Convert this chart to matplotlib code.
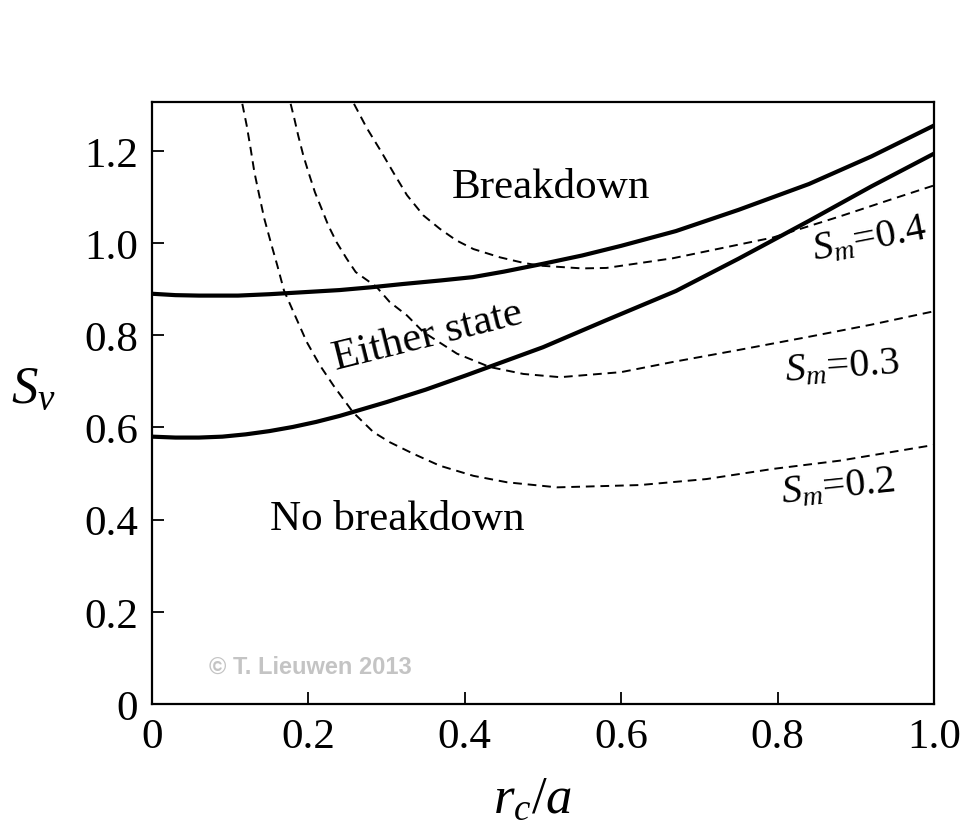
import matplotlib
matplotlib.use("Agg")
import matplotlib.pyplot as plt

plt.rcParams['font.family'] = ['Liberation Serif', 'DejaVu Serif']
plt.rcParams['mathtext.fontset'] = 'custom'
plt.rcParams['mathtext.rm'] = 'Liberation Serif'
plt.rcParams['mathtext.it'] = 'Liberation Serif:italic'

# Solid boundary curves
upper_x = [0, 0.03, 0.06, 0.11, 0.15, 0.19, 0.24, 0.28, 0.32, 0.37, 0.41, 0.45, 0.50, 0.55, 0.60, 0.67, 0.75, 0.84, 0.92, 1.0]
upper_y = [0.890, 0.887, 0.886, 0.886, 0.889, 0.893, 0.898, 0.904, 0.911, 0.919, 0.926, 0.938, 0.955, 0.973, 0.994, 1.026, 1.072, 1.128, 1.188, 1.255]

lower_x = [0, 0.03, 0.06, 0.09, 0.12, 0.15, 0.18, 0.21, 0.24, 0.27, 0.30, 0.35, 0.40, 0.45, 0.50, 0.58, 0.67, 0.75, 0.84, 0.92, 1.0]
lower_y = [0.580, 0.578, 0.578, 0.580, 0.585, 0.592, 0.601, 0.612, 0.625, 0.640, 0.655, 0.682, 0.712, 0.743, 0.774, 0.832, 0.896, 0.966, 1.048, 1.123, 1.194]

# Dashed S_m curves
sm02_x = [0.1155, 0.1211, 0.1262, 0.1309, 0.1372, 0.1436, 0.1518, 0.1603, 0.1688, 0.181, 0.198, 0.215, 0.232,
          0.257, 0.283, 0.304, 0.334, 0.368, 0.411, 0.454, 0.518, 0.624, 0.709, 0.794, 0.880, 1.0]
sm02_y = [1.302, 1.255, 1.204, 1.154, 1.103, 1.053, 1.002, 0.951, 0.897, 0.850, 0.785, 0.734, 0.691,
          0.633, 0.590, 0.568, 0.543, 0.517, 0.495, 0.481, 0.470, 0.475, 0.488, 0.510, 0.528, 0.562]

sm03_x = [0.1773, 0.182, 0.187, 0.1935, 0.200, 0.2084, 0.217, 0.2255, 0.236, 0.249, 0.2605, 0.287, 0.304,
          0.326, 0.347, 0.39, 0.432, 0.475, 0.522, 0.60, 0.666, 0.75, 0.838, 0.92, 1.0]
sm03_y = [1.302, 1.270, 1.233, 1.190, 1.154, 1.110, 1.074, 1.038, 1.002, 0.966, 0.937, 0.905, 0.872,
          0.843, 0.807, 0.760, 0.731, 0.716, 0.709, 0.720, 0.742, 0.768, 0.796, 0.823, 0.852]

sm04_x = [0.2583, 0.2745, 0.2925, 0.309, 0.326, 0.347, 0.368, 0.389, 0.411, 0.445, 0.475, 0.496, 0.55,
          0.581, 0.666, 0.794, 0.85, 0.880, 0.944, 1.0]
sm04_y = [1.302, 1.250, 1.200, 1.152, 1.104, 1.060, 1.031, 1.006, 0.987, 0.969, 0.957, 0.951, 0.945,
          0.946, 0.967, 1.012, 1.042, 1.058, 1.094, 1.125]

sm_labels = [r'$S_m$=0.2', r'$S_m$=0.3', r'$S_m$=0.4']

xticks = [0, 0.2, 0.4, 0.6, 0.8, 1.0]
xtick_labels = ['0', '0.2', '0.4', '0.6', '0.8', '1.0']
yticks = [0, 0.2, 0.4, 0.6, 0.8, 1.0, 1.2]
ytick_labels = ['0', '0.2', '0.4', '0.6', '0.8', '1.0', '1.2']

fig = plt.figure(figsize=(9.63, 8.28), dpi=100)
ax = fig.add_axes([152/963, 1-705/828, (934-152)/963, (705-103)/828])

ax.plot(upper_x, upper_y, color='black', lw=3.0, solid_capstyle='butt', solid_joinstyle='round')
ax.plot(lower_x, lower_y, color='black', lw=3.0, solid_capstyle='butt', solid_joinstyle='round')
for xs, ys in [(sm02_x, sm02_y), (sm03_x, sm03_y), (sm04_x, sm04_y)]:
    ax.plot(xs, ys, color='black', lw=1.4, linestyle=(0, (4.5, 3)))

ax.set_xlim(0, 1.0)
ax.set_ylim(0, 1.306)
ax.set_xticks(xticks)
ax.set_xticklabels(xtick_labels)
ax.set_yticks(yticks)
ax.set_yticklabels(ytick_labels)
ax.tick_params(direction='in', length=8.5, width=1.3, labelsize=31, pad=10)
for s in ax.spines.values():
    s.set_linewidth(1.6)

ax.text(0.510, 1.122, 'Breakdown', fontsize=31, ha='center', va='center')
ax.text(0.313, 0.401, 'No breakdown', fontsize=31, ha='center', va='center')
ax.text(0.352, 0.799, 'Either state', fontsize=31, ha='center', va='center', rotation=14,
        rotation_mode='anchor')

ax.text(0.877, 0.471, sm_labels[0], fontsize=29, ha='center', va='center', rotation=6, rotation_mode='anchor')
ax.text(0.882, 0.731, sm_labels[1], fontsize=29, ha='center', va='center', rotation=4, rotation_mode='anchor')
ax.text(0.918, 1.009, sm_labels[2], fontsize=29, ha='center', va='center', rotation=11, rotation_mode='anchor')

ax.text(0.203, 0.082, '\u00a9 T. Lieuwen 2013', fontsize=17, fontweight='bold', color='#c4c4c4',
        family=['Liberation Sans', 'DejaVu Sans'], ha='center', va='center')

ax.text(-0.152, 0.523, r'$S_v$', fontsize=38, ha='center', va='center', transform=ax.transAxes)
ax.text(0.487, -0.158, r'$r_c/a$', fontsize=38, ha='center', va='center', transform=ax.transAxes)

fig.savefig('out.png', dpi=100)
